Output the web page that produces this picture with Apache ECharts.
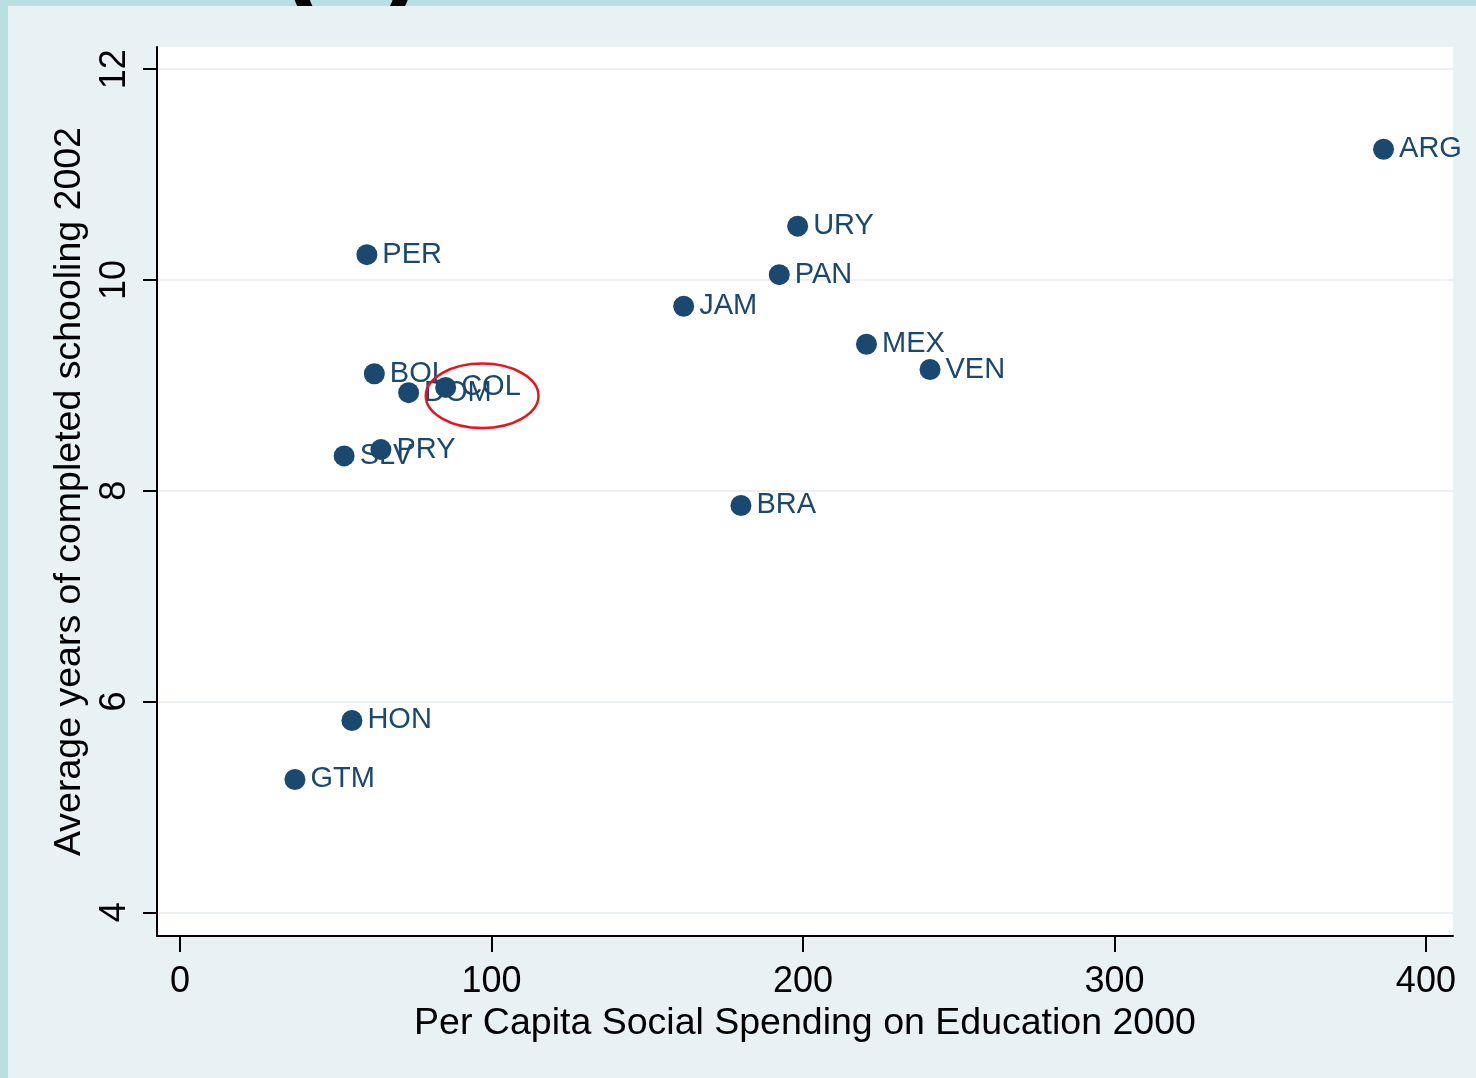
<!DOCTYPE html>
<html>
<head>
<meta charset="utf-8">
<script src="https://cdn.jsdelivr.net/npm/echarts@6/dist/echarts.min.js"></script>
<style>
html,body{margin:0;padding:0;background:#b9dfe3;}
#chart{width:1476px;height:1078px;}
</style>
</head>
<body>
<div id="chart"></div>
<script>
const countries = ['ARG','URY','PER','PAN','JAM','MEX','VEN','BOL','COL','DOM','PRY','SLV','BRA','HON','GTM'];
const spending  = [386.4,198.3,60.0,192.4,161.7,220.4,240.8,62.4,85.3,73.4,64.5,52.7,180.1,55.2,36.9];
const schooling = [11.24,10.51,10.24,10.05,9.75,9.39,9.15,9.11,8.98,8.93,8.39,8.33,7.86,5.82,5.26];
const xTicks = [0,100,200,300,400];
const yTicks = [4,6,8,10,12];
const highlightCenter = [97.0, 8.90];
const highlightHalfSize = [18.1, 0.306];

const blue = '#1b4870';
const points = countries.map((c,i)=>({name:c, value:[spending[i], schooling[i]]}));

const chart = echarts.init(document.getElementById('chart'), null, {renderer:'canvas'});
const font = '"Liberation Sans", Arial, sans-serif';
const baseGraphic = [
  {type:'text', z:-20, left:284, top:-88, style:{text:'(c)', font:'bold 110px "Liberation Sans", Arial', fill:'#000'}},
  {type:'rect', z:-10, shape:{x:8,y:6,width:1476,height:1078}, style:{fill:'#e8f1f3'}}
];
chart.setOption({
  backgroundColor:'transparent',
  animation:false,
  graphic:baseGraphic,
  grid:{left:157, right:23, top:47, bottom:142, show:true, backgroundColor:'#ffffff', borderWidth:0},
  xAxis:{
    type:'value', min:-7.38, max:408.7,
    name:'Per Capita Social Spending on Education 2000', nameLocation:'middle', nameGap:57,
    nameTextStyle:{fontFamily:font, fontSize:37.5, color:'#000'},
    axisLine:{show:true, onZero:false, lineStyle:{color:'#000', width:2}},
    axisTick:{show:true, length:16, lineStyle:{color:'#000', width:2}, customValues:xTicks},
    axisLabel:{customValues:xTicks, fontFamily:font, fontSize:36, color:'#000', margin:28},
    splitLine:{show:false}
  },
  yAxis:{
    type:'value', min:3.775, max:12.21,
    name:'Average years of completed schooling 2002', nameLocation:'middle', nameGap:67,
    nameTextStyle:{fontFamily:font, fontSize:37.5, color:'#000'},
    axisLine:{show:true, onZero:false, lineStyle:{color:'#000', width:2}},
    axisTick:{show:true, length:14, lineStyle:{color:'#000', width:2}, customValues:yTicks},
    axisLabel:{customValues:yTicks, fontFamily:font, fontSize:36, color:'#000', margin:24, rotate:90},
    splitLine:{show:true, lineStyle:{color:'#eaf0f3', width:2}}
  },
  series:[{
    type:'scatter',
    data:points,
    symbol:'circle', symbolSize:21,
    itemStyle:{color:blue, opacity:1},
    label:{show:true, position:'right', distance:5, formatter:'{b}', fontFamily:font, fontSize:29, color:blue},
    labelLayout:{hideOverlap:false}
  }]
});

function drawEllipse(){
  const c = chart.convertToPixel({gridIndex:0}, highlightCenter);
  const e = chart.convertToPixel({gridIndex:0}, [highlightCenter[0]+highlightHalfSize[0], highlightCenter[1]+highlightHalfSize[1]]);
  chart.setOption({graphic:baseGraphic.concat([
    {type:'ellipse', z:100, shape:{cx:c[0], cy:c[1], rx:Math.abs(e[0]-c[0]), ry:Math.abs(e[1]-c[1])}, style:{fill:'none', stroke:'#e8141c', lineWidth:2.5}}
  ])});
}
drawEllipse();
</script>
</body>
</html>
